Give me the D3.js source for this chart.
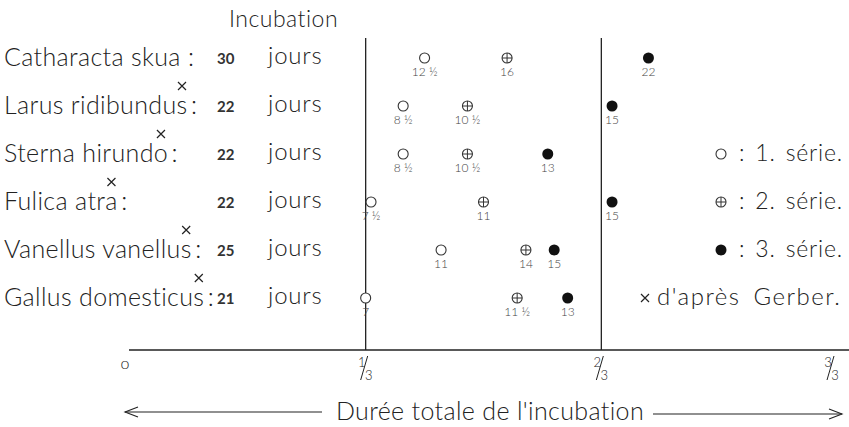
<!DOCTYPE html>
<html><head><meta charset="utf-8">
<script src="https://cdn.jsdelivr.net/npm/d3@7"></script>
<style>body{margin:0;background:#fff}svg{display:block}text{font-family:Lato,"Open Sans",sans-serif;fill:#222}</style>
</head><body><svg id="c" width="849" height="427"></svg>
<script>
const species = ["Catharacta skua", "Larus ridibundus", "Sterna hirundo", "Fulica atra", "Vanellus vanellus", "Gallus domesticus"];
const gerber = [false, true, true, true, true, true];
const incubation = [30, 22, 22, 22, 25, 21];
const serie1 = [12.5, 8.5, 8.5, 7.5, 11, 7];
const serie2 = [16, 10.5, 10.5, 11, 14, 11.5];
const serie3 = [22, 15, 13, 15, 15, 13];
const tickValues = [0, 1/3, 2/3, 1];
const tickLabels = ["0", "1/3", "2/3", "3/3"];
const legendLabels = ["1. série.", "2. série.", "3. série."];

const svg = d3.select("#c");
const x = d3.scaleLinear().domain([0, 1]).range([130, 837]);
const y = d3.scalePoint().domain(species).range([57, 297]);
const ink = "#222";

function cross(cx, cy, r) {
  svg.append("path").attr("d", `M${cx-r},${cy-r}L${cx+r},${cy+r}M${cx+r},${cy-r}L${cx-r},${cy+r}`)
    .attr("stroke", ink).attr("stroke-width", 1.2).attr("fill", "none");
}

// axis
svg.append("line").attr("x1", 129).attr("x2", 849).attr("y1", 350).attr("y2", 350)
  .attr("stroke", ink).attr("stroke-width", 1.4);
[1/3, 2/3].forEach(v => svg.append("line").attr("x1", x(v)).attr("x2", x(v))
  .attr("y1", 38).attr("y2", 350).attr("stroke", ink).attr("stroke-width", 1.3));

// tick labels as fractions
tickValues.forEach((v, i) => {
  const g = svg.append("g").attr("transform", `translate(${i === 0 ? x(v) - 5 : (i === 3 ? x(v) - 6 : x(v) - 1)},0)`);
  if (i === 0) {
    g.append("text").attr("y", 369).attr("text-anchor", "middle").attr("font-size", 16).attr("font-weight", 300).text("o");
  } else {
    const [n, d] = tickLabels[i].split("/");
    g.append("text").attr("x", -3).attr("y", 367).attr("text-anchor", "middle").attr("font-size", 13).attr("font-weight", 300).text(n);
    g.append("line").attr("x1", -4).attr("x2", 3).attr("y1", 380).attr("y2", 356).attr("stroke", ink).attr("stroke-width", 1);
    g.append("text").attr("x", 4).attr("y", 380).attr("text-anchor", "middle").attr("font-size", 13).attr("font-weight", 300).text(d);
  }
});

// header
svg.append("text").attr("x", 229).attr("y", 27).attr("font-size", 23).attr("font-weight", 300)
  .attr("letter-spacing", 0.5).text("Incubation");

// rows
species.forEach((s, i) => {
  const yy = y(s);
  const t = svg.append("text").attr("x", 4).attr("y", yy + 9).attr("font-size", 25).attr("font-weight", 300)
    .attr("letter-spacing", 0.35).text(s + (i === 0 ? " :" : "\u2009:"));
  if (gerber[i]) {
    const box = t.node().getExtentOfChar(s.length - 1);
    cross(box.x + box.width / 2, yy - 19, 4);
  }
  svg.append("text").attr("x", 217).attr("y", yy + 7).attr("font-size", 15).attr("font-weight", 700)
    .style("fill", "#333").text(incubation[i]);
  svg.append("text").attr("x", 268).attr("y", yy + 7).attr("font-size", 24).attr("font-weight", 300)
    .attr("letter-spacing", 0.8).text("jours");
});

const fmt = v => (v % 1 ? Math.floor(v) + " ½" : String(v));
const series = [serie1, serie2, serie3];
series.forEach((arr, k) => {
  arr.forEach((d, i) => {
    const cx = x(d / incubation[i]), cy = y(species[i]) + 1;
    drawMarker(svg, k, cx, cy);
    svg.append("text").attr("x", cx).attr("y", cy + 18).attr("text-anchor", "middle")
      .attr("font-size", 12).attr("font-weight", 300).style("fill", "#444").text(fmt(d));
  });
});

function drawMarker(sel, k, cx, cy) {
  if (k === 2) {
    sel.append("circle").attr("cx", cx).attr("cy", cy).attr("r", 5.5).attr("fill", "#111");
  } else {
    sel.append("circle").attr("cx", cx).attr("cy", cy).attr("r", 5).attr("fill", "#fff")
      .attr("stroke", "#333").attr("stroke-width", 1.1);
    if (k === 1) {
      sel.append("line").attr("x1", cx - 5).attr("x2", cx + 5).attr("y1", cy).attr("y2", cy).attr("stroke", "#333").attr("stroke-width", 1);
      sel.append("line").attr("x1", cx).attr("x2", cx).attr("y1", cy - 5).attr("y2", cy + 5).attr("stroke", "#333").attr("stroke-width", 1);
    }
  }
}

// legend
legendLabels.forEach((l, k) => {
  const yy = y(species[k + 2]);
  drawMarker(svg, k, 721, yy + 1);
  svg.append("text").attr("x", 739).attr("y", yy + 8).attr("font-size", 23).attr("font-weight", 300)
    .attr("letter-spacing", 0.8).attr("word-spacing", 3).text(": " + l);
});
cross(645, y(species[5]) + 1, 4);
svg.append("text").attr("x", 657).attr("y", y(species[5]) + 8).attr("font-size", 24).attr("font-weight", 300)
  .attr("letter-spacing", 1.5).attr("word-spacing", 5).text("d'après Gerber.");

// bottom title with arrows
svg.append("text").attr("x", 490).attr("y", 420).attr("text-anchor", "middle").attr("font-size", 25).attr("font-weight", 300)
  .attr("letter-spacing", 0.35).text("Durée totale de l'incubation");
svg.append("line").attr("x1", 125).attr("x2", 322).attr("y1", 412).attr("y2", 412).attr("stroke", ink).attr("stroke-width", 1.1);
svg.append("path").attr("d", "M138,407 L125,412 L138,417").attr("fill", "none").attr("stroke", ink).attr("stroke-width", 1.1);
svg.append("line").attr("x1", 653).attr("x2", 842).attr("y1", 414).attr("y2", 414).attr("stroke", ink).attr("stroke-width", 1.1);
svg.append("path").attr("d", "M829,409 L842,414 L829,419").attr("fill", "none").attr("stroke", ink).attr("stroke-width", 1.1);
</script></body></html>
